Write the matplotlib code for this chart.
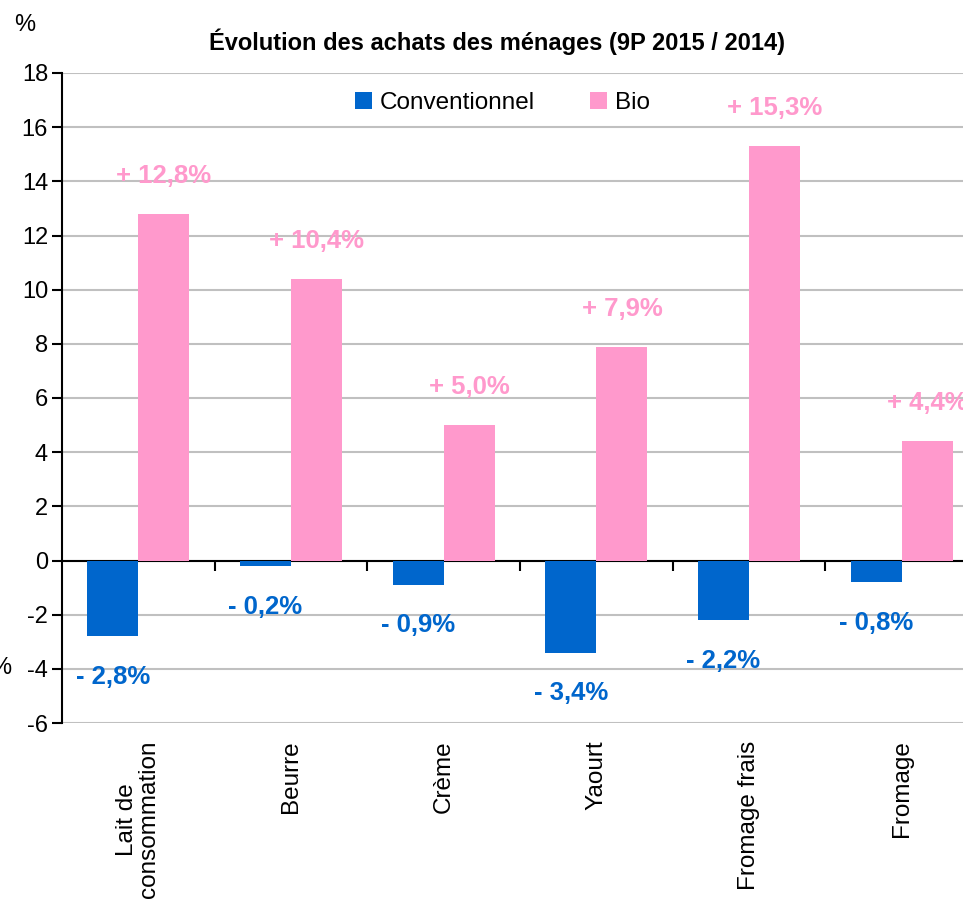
import numpy as np
import matplotlib.pyplot as plt

plt.rcParams['font.family'] = ['Liberation Sans', 'DejaVu Sans']

# data ---------------------------------------------------------------
categories = ['Lait de\nconsommation', 'Beurre', 'Crème', 'Yaourt',
              'Fromage frais', 'Fromage']
conventionnel = [-2.8, -0.2, -0.9, -3.4, -2.2, -0.8]
bio = [12.8, 10.4, 5.0, 7.9, 15.3, 4.4]
conv_labels = ['- 2,8%', '- 0,2%', '- 0,9%', '- 3,4%', '- 2,2%', '- 0,8%']
bio_labels = ['+ 12,8%', '+ 10,4%', '+ 5,0%', '+ 7,9%', '+ 15,3%', '+ 4,4%']
yticks = np.arange(-6, 19, 2)

blue = '#0066CC'
pink = '#FF99CC'

fig = plt.figure(figsize=(9.63, 9.09), dpi=100)
# axis area runs a bit past the right edge, like the original
ax = fig.add_axes([62/963, 1-723/909, 916/963, 650/909])

x = np.arange(len(categories))
w = 0.335
ax.bar(x - w/2, conventionnel, w, color=blue, label='Conventionnel', zorder=3)
ax.bar(x + w/2, bio, w, color=pink, label='Bio', zorder=3)

for i in range(len(categories)):
    ax.text(x[i] + w/2, bio[i] + 1.4, bio_labels[i], color=pink,
            fontsize=18.5, fontweight='bold', ha='center', va='center')
    ax.text(x[i] - w/2, conventionnel[i] - 1.5, conv_labels[i], color=blue,
            fontsize=18.5, fontweight='bold', ha='center', va='center')
    ax.text(x[i], -6.65, categories[i], rotation=90, ha='center', va='top',
            fontsize=17.5, linespacing=1.0)

ax.set_xlim(-0.5, len(categories) - 0.5)
ax.set_ylim(-6, 18)
ax.set_yticks(yticks)
ax.set_yticklabels([str(v) for v in yticks], fontsize=17)
ax.yaxis.grid(True, color='#C0C0C0', linewidth=1.5, zorder=0)
ax.set_xticks(np.arange(0.5, len(categories) - 0.5, 1.0))
ax.set_xticklabels([])

for s in ['top', 'right']:
    ax.spines[s].set_visible(False)
ax.spines['bottom'].set_position(('data', 0))
ax.spines['bottom'].set_linewidth(1.5)
ax.spines['left'].set_linewidth(1.5)
ax.tick_params(axis='y', length=7, width=1.5, pad=3)
ax.tick_params(axis='x', length=7, width=1.5)

fig.text(497/963, 1-42/909, 'Évolution des achats des ménages (9P 2015 / 2014)',
         ha='center', va='center', fontsize=17, fontweight='bold')
fig.text(25/963, 1-25/909, '%', ha='center', va='center', fontsize=17)
fig.text(11/963, 1-668/909, '%', ha='right', va='center', fontsize=17)

ax.legend(loc='center left', bbox_to_anchor=(355/963, 1-103/909),
          bbox_transform=fig.transFigure, ncol=2, frameon=False,
          fontsize=17.5, handlelength=0.7, handleheight=0.7,
          handletextpad=0.3, columnspacing=2.3, borderpad=0, borderaxespad=0)

fig.savefig('out.png', dpi=100)
